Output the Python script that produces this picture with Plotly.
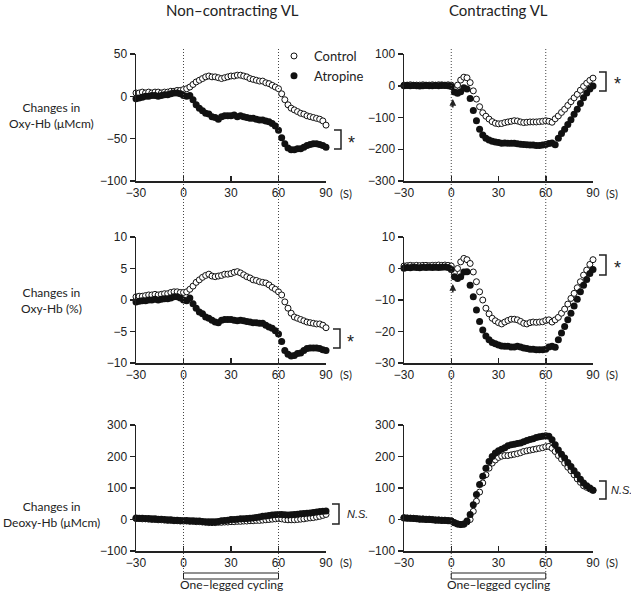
import plotly.graph_objects as go

W, H = 631, 603

time_s = list(range(-30, 92, 2))

oxy_nc_control = [4, 4, 5, 4, 5, 4, 5, 5, 4, 5, 5, 6, 6, 7, 7,
                  8, 9, 11, 14, 17, 19, 21, 23, 24, 23, 23, 22, 21, 22, 23,
                  24, 24, 25, 25, 24, 23, 21, 20, 19, 18, 18, 16, 15, 13, 11,
                  9, 3, -4, -10, -14, -16, -18, -20, -21, -23, -24, -25, -26, -27, -29, -34]
oxy_nc_atropine = [-3, -2, -1, 0, 0, 1, 1, 0, 1, 2, 2, 3, 4, 4, 3,
                   1, 0, 1, -4, -10, -14, -17, -20, -21, -24, -25, -27, -24, -23, -23,
                   -23, -22, -24, -23, -24, -25, -26, -26, -27, -28, -28, -29, -30, -32, -35,
                   -40, -49, -56, -61, -63, -63, -62, -62, -60, -58, -57, -56, -56, -57, -58, -60]

oxy_c_control = [2, 2, 3, 2, 2, 2, 3, 2, 2, 3, 2, 3, 3, 2, 3,
                 2, -8, 2, 18, 27, 25, 10, -16, -42, -66, -85, -96, -105, -113, -118,
                 -120, -119, -116, -114, -112, -110, -111, -114, -116, -115, -114, -114, -114, -113, -112,
                 -110, -112, -115, -104, -95, -84, -74, -62, -50, -38, -27, -14, -2, 8, 17, 24]
oxy_c_atropine = [0, 1, 0, 1, 0, -1, 0, 1, 0, 0, 1, 0, 1, 1, 0,
                  -2, -20, -24, -19, -6, -10, -40, -78, -110, -137, -155, -165, -171, -175, -177,
                  -179, -181, -180, -181, -181, -181, -183, -184, -185, -186, -187, -187, -188, -188, -187,
                  -185, -182, -180, -186, -165, -150, -137, -122, -107, -90, -74, -56, -38, -23, -10, -1]

pct_nc_control = [0.5, 0.6, 0.6, 0.7, 0.8, 0.8, 0.9, 0.8, 0.9, 1.0, 1.0, 1.2, 1.3, 1.3, 1.2,
                  1.2, 1.3, 1.7, 2.2, 2.8, 3.2, 3.6, 3.9, 4.1, 3.8, 3.7, 3.8, 3.9, 4.1, 4.1,
                  4.2, 4.4, 4.5, 4.3, 4.0, 3.7, 3.5, 3.2, 3.1, 2.9, 2.8, 2.7, 2.4, 2.0, 1.7,
                  1.3, 0.8, -0.3, -1.3, -2.1, -2.7, -2.9, -3.1, -3.3, -3.5, -3.6, -3.7, -3.8, -3.8, -4.0, -4.4]
pct_nc_atropine = [-0.3, -0.2, -0.1, -0.1, 0.0, 0.0, 0.1, 0.0, 0.1, 0.2, 0.2, 0.3, 0.5, 0.5, 0.3,
                   0.0, -0.1, 0.3, -0.6, -1.3, -1.9, -2.2, -2.7, -2.9, -3.2, -3.5, -3.6, -3.2, -3.1, -3.1,
                   -3.1, -3.2, -3.3, -3.2, -3.3, -3.4, -3.5, -3.6, -3.6, -3.7, -3.7, -4.0, -4.3, -4.5, -4.9,
                   -5.4, -6.6, -8.0, -8.6, -8.9, -8.8, -8.5, -8.4, -8.0, -7.7, -7.6, -7.6, -7.6, -7.7, -7.9, -8.0]

pct_c_control = [0.8, 0.9, 1.0, 0.9, 1.0, 0.9, 1.0, 1.0, 0.9, 1.0, 1.0, 1.1, 1.0, 1.1, 1.0,
                 0.8, -1.4, 0.0, 2.1, 3.2, 2.8, 1.6, -1.1, -4.2, -7.4, -10.0, -12.6, -14.4, -15.8, -16.6,
                 -17.2, -17.6, -17.0, -16.5, -16.1, -16.1, -16.3, -16.8, -17.4, -17.6, -17.2, -17.0, -17.1, -17.0, -16.9,
                 -16.5, -16.3, -17.0, -16.3, -15.5, -14.2, -12.9, -11.3, -9.5, -7.9, -6.1, -4.2, -2.1, -0.5, 1.3, 2.8]
pct_c_atropine = [0.1, 0.3, 0.2, 0.4, 0.3, 0.2, 0.4, 0.3, 0.4, 0.3, 0.4, 0.3, 0.4, 0.5, 0.3,
                  -0.3, -2.6, -3.2, -2.6, -1.1, -1.0, -5.3, -9.0, -13.2, -16.8, -19.5, -21.4, -22.6, -23.5, -23.9,
                  -24.3, -24.6, -24.7, -24.7, -24.9, -24.9, -24.7, -24.9, -25.2, -25.4, -25.6, -25.6, -25.8, -25.8, -25.8,
                  -25.6, -24.9, -24.7, -25.0, -22.6, -20.5, -18.4, -16.3, -14.2, -11.9, -9.8, -7.4, -5.3, -3.5, -1.6, -0.3]

deoxy_nc_control = [3, 3, 2, 2, 1, 0, 0, -1, -1, -2, -3, -3, -4, -4, -5,
                    -5, -5, -6, -6, -7, -7, -8, -9, -10, -10, -10, -9, -9, -8, -8,
                    -7, -7, -6, -6, -5, -5, -4, -4, -3, -3, -2, -1, 0, 1, 2,
                    3, 2, 0, -1, -1, -1, 0, 1, 2, 4, 5, 6, 8, 10, 13, 16]
deoxy_nc_atropine = [5, 4, 4, 3, 3, 2, 2, 1, 1, 0, -1, -1, -2, -2, -3,
                     -3, -3, -4, -4, -5, -5, -6, -7, -7, -7, -7, -6, -4, -3, -2,
                     0, 0, 1, 2, 2, 3, 4, 5, 6, 8, 10, 11, 13, 14, 15,
                     16, 16, 15, 14, 15, 16, 17, 18, 19, 20, 21, 22, 24, 25, 26, 27]

deoxy_c_control = [6, 5, 4, 4, 3, 2, 2, 1, 1, 0, -1, -1, -2, -2, -3,
                   -4, -10, -14, -16, -15, -8, 0, 26, 58, 87, 116, 142, 163, 179, 189,
                   197, 201, 203, 203, 205, 207, 209, 212, 216, 218, 220, 222, 224, 226, 228,
                   231, 232, 226, 216, 203, 192, 179, 166, 155, 142, 129, 118, 107, 102, 97, 93]
deoxy_c_atropine = [5, 4, 4, 3, 2, 1, 1, 0, 0, -1, -2, -2, -3, -3, -4,
                    -5, -10, -14, -16, -14, -5, 16, 47, 79, 111, 137, 163, 184, 200, 211,
                    218, 223, 228, 234, 237, 239, 241, 243, 247, 251, 254, 256, 260, 263, 264,
                    266, 264, 253, 237, 221, 207, 195, 181, 168, 155, 142, 128, 116, 107, 100, 93]

x_ticks = [-30, 0, 30, 60, 90]
y_ranges = [(-100, 50), (-300, 100), (-10, 10), (-30, 10), (-100, 300), (-100, 300)]
y_ticks = [[-100, -50, 0, 50], [-300, -200, -100, 0, 100], [-10, -5, 0, 5, 10],
           [-30, -20, -10, 0, 10], [-100, 0, 100, 200, 300], [-100, 0, 100, 200, 300]]
col_titles = ["Non–contracting VL", "Contracting VL"]
row_labels = ["Changes in<br>Oxy-Hb (μMcm)", "Changes in<br>Oxy-Hb (%)", "Changes in<br>Deoxy-Hb (μMcm)"]
series_names = ["Control", "Atropine"]

panels = [(oxy_nc_control, oxy_nc_atropine), (oxy_c_control, oxy_c_atropine),
          (pct_nc_control, pct_nc_atropine), (pct_c_control, pct_c_atropine),
          (deoxy_nc_control, deoxy_nc_atropine), (deoxy_c_control, deoxy_c_atropine)]


def px(x):
    return x / W


def py(y):
    return 1 - y / H


col_dom = [(136, 326), (404, 593)]
row_dom = [(54, 181), (237, 363), (425, 551)]

TICKFONT = dict(family="Liberation Sans, Arial", size=12, color="#222")
TEXTFONT = "Lato, Open Sans, sans-serif"

fig = go.Figure()
layout = dict(width=W, height=H, margin=dict(l=0, r=0, t=0, b=0, autoexpand=False),
              paper_bgcolor="white", plot_bgcolor="white", showlegend=True)

for i, (ctrl, atro) in enumerate(panels):
    r, c = divmod(i, 2)
    n = i + 1
    xa = "x" if n == 1 else f"x{n}"
    ya = "y" if n == 1 else f"y{n}"
    fig.add_trace(go.Scatter(x=time_s, y=ctrl, mode="markers", name=series_names[0],
                             xaxis=xa, yaxis=ya, cliponaxis=False, showlegend=(n == 1),
                             marker=dict(symbol="circle", size=6, color="white",
                                         line=dict(color="#111", width=1))))
    fig.add_trace(go.Scatter(x=time_s, y=atro, mode="markers", name=series_names[1],
                             xaxis=xa, yaxis=ya, cliponaxis=False, showlegend=(n == 1),
                             marker=dict(symbol="circle", size=7, color="#111",
                                         line=dict(width=0))))
    key_x = "xaxis" if n == 1 else f"xaxis{n}"
    key_y = "yaxis" if n == 1 else f"yaxis{n}"
    layout[key_x] = dict(domain=[px(col_dom[c][0]), px(col_dom[c][1])], range=[-30, 90],
                         anchor=ya, tickvals=x_ticks, ticks="inside", ticklen=5, tickwidth=1.5,
                         tickcolor="#222", showline=True, linecolor="#222", linewidth=1.5,
                         showgrid=False, zeroline=False, tickfont=TICKFONT, fixedrange=True,
                         automargin=False)
    lo, hi = y_ranges[i]
    layout[key_y] = dict(domain=[py(row_dom[r][1]), py(row_dom[r][0])], range=[lo, hi],
                         anchor=xa, tickvals=y_ticks[i], ticks="outside", ticklen=5, tickwidth=1.5,
                         tickcolor="#222", showline=True, linecolor="#222", linewidth=1.5,
                         showgrid=False, zeroline=False, tickfont=TICKFONT, fixedrange=True,
                         automargin=False)

shapes = []
annotations = []
# dotted reference lines at 0 and 60 s, running through all rows
for xa in ["x", "x2"]:
    for xv in [0, 60]:
        shapes.append(dict(type="line", xref=xa, yref="paper", x0=xv, x1=xv,
                           y0=py(578), y1=py(47), line=dict(color="#444", width=1, dash="1px,2px")))
# cycling bars
for xa in ["x5", "x6"]:
    shapes.append(dict(type="rect", xref=xa, yref="paper", x0=0, x1=60, y0=py(579), y1=py(573),
                       line=dict(color="#222", width=1), fillcolor="white"))
    annotations.append(dict(xref=xa, yref="paper", x=30, y=py(594), text="One–legged cycling",
                            showarrow=False, font=dict(family=TEXTFONT, size=12, color="#222")))

# brackets: (x_vertical, y_top, y_bottom, label, label_x, italic)
brackets = [(341, 130, 149, "*", 346, False), (606, 72, 91, "*", 612, False),
            (340, 329, 348, "*", 345, False), (606, 255, 275, "*", 612, False),
            (339, 504, 524, "<i>N.S.</i>", 345, True), (606, 481, 499, "<i>N.S.</i>", 609, True)]
for xv, yt, yb, lab, lx, it in brackets:
    path = f"M {px(xv-7)},{py(yt)} L {px(xv)},{py(yt)} L {px(xv)},{py(yb)} L {px(xv-7)},{py(yb)}"
    shapes.append(dict(type="path", xref="paper", yref="paper", path=path,
                       line=dict(color="#222", width=1.5)))
    annotations.append(dict(xref="paper", yref="paper", x=px(lx), y=py((yt + yb) / 2 + (3 if not it else 0)),
                            xanchor="left", yanchor="middle", text=lab, showarrow=False,
                            font=dict(family="Liberation Sans, Arial", size=18 if not it else 11,
                                      color="#222")))

# "(S)" unit labels
for row_y in [193, 375, 562]:
    for sx in [346, 612]:
        annotations.append(dict(xref="paper", yref="paper", x=px(sx), y=py(row_y), text="(S)",
                                showarrow=False, xanchor="center", yanchor="middle",
                                font=dict(family=TEXTFONT, size=11, color="#222")))

# column titles
for cx, t in zip([232, 498], col_titles):
    annotations.append(dict(xref="paper", yref="paper", x=px(cx), y=py(10), text=t,
                            showarrow=False, xanchor="center", yanchor="middle",
                            font=dict(family=TEXTFONT, size=15, color="#222")))
# row labels
for ry, t in zip([115, 300, 514], row_labels):
    annotations.append(dict(xref="paper", yref="paper", x=px(51), y=py(ry), text=t,
                            showarrow=False, xanchor="center", yanchor="middle", align="center",
                            font=dict(family=TEXTFONT, size=12, color="#222")))

# small arrows under the initial dip in contracting VL
for xa, tip in [("x2", 99), ("x4", 284)]:
    annotations.append(dict(xref=xa, yref="paper", x=1, y=py(tip), ax=0, ay=10, text="",
                            showarrow=True, arrowhead=2, arrowsize=0.9, arrowwidth=1.5,
                            arrowcolor="#222"))

layout["shapes"] = shapes
layout["annotations"] = annotations
layout["legend"] = dict(x=px(274), y=py(41), xanchor="left", yanchor="top",
                        bgcolor="rgba(0,0,0,0)", itemwidth=30, tracegroupgap=0,
                        font=dict(family=TEXTFONT, size=13, color="#222"))
fig.update_layout(**layout)

fig.write_html("out.html", config={"displayModeBar": False, "staticPlot": True},
               post_script="document.body.style.margin='0';document.body.style.padding='0';")
